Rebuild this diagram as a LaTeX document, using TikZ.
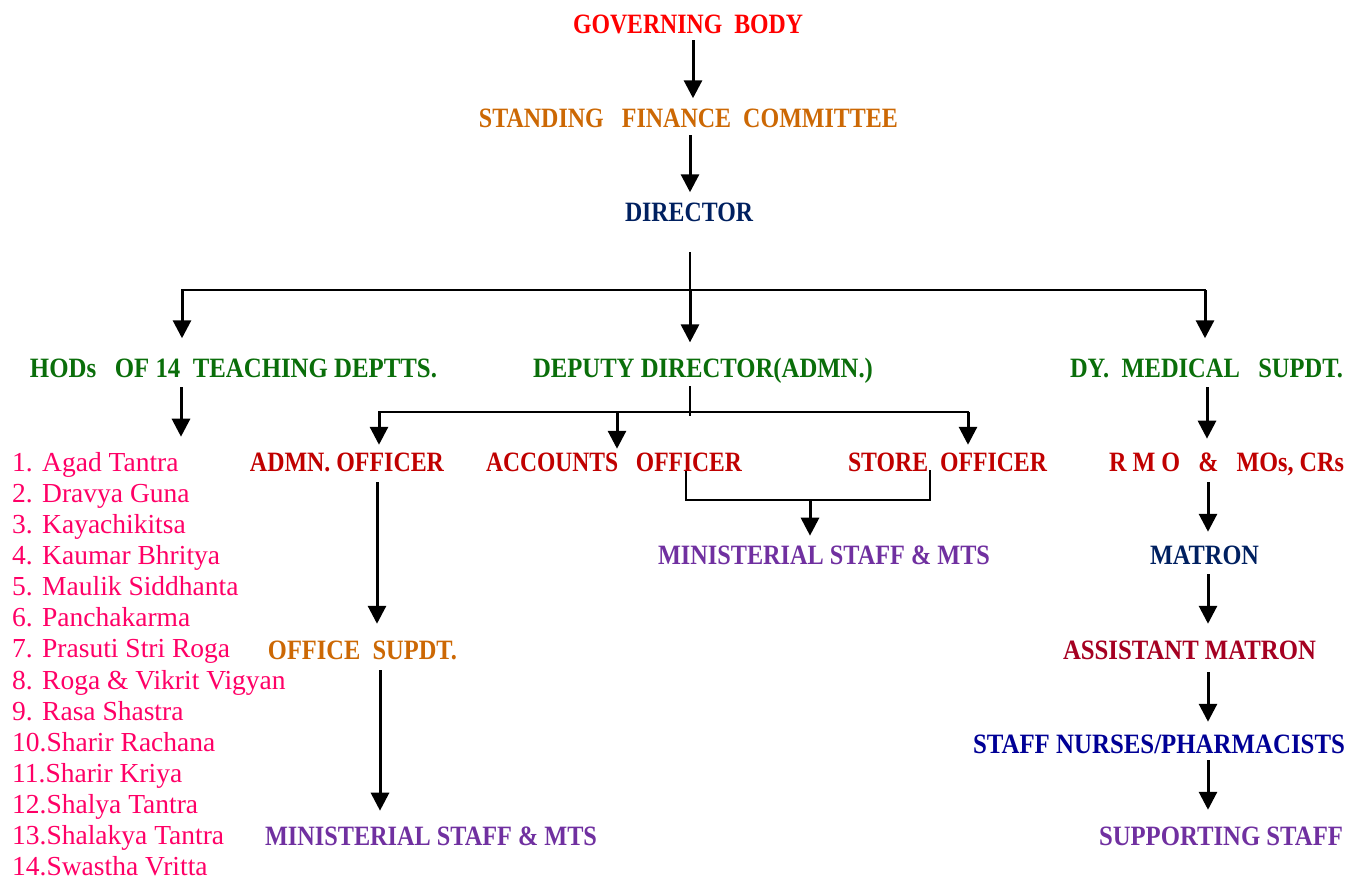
\documentclass[tikz,border=0pt]{standalone}
\usepackage{fontspec}
\setmainfont{Liberation Serif}
\usepackage{graphicx}
\usetikzlibrary{arrows.meta}
\definecolor{cred}{RGB}{255,0,0}
\definecolor{corange}{RGB}{204,104,4}
\definecolor{cnavy}{RGB}{0,32,96}
\definecolor{cgreen}{RGB}{10,110,10}
\definecolor{cdred}{RGB}{192,0,0}
\definecolor{cpurple}{RGB}{112,48,160}
\definecolor{ccrimson}{RGB}{165,0,33}
\definecolor{cblue}{RGB}{0,0,150}
\definecolor{cpink}{RGB}{255,0,102}
\newcommand{\fw}[2]{\resizebox{#1pt}{\height}{#2}}
\begin{document}
\begin{tikzpicture}[x=1pt,y=-1pt,
  hd/.style={inner sep=0pt,anchor=base,font=\fontsize{28}{32}\selectfont\bfseries},
  li/.style={inner sep=0pt,anchor=base west,text=cpink,font=\fontsize{27.5}{32}\selectfont},
  arr/.style={line width=3pt,-{Triangle[width=18pt,length=18pt]}},
  bus/.style={line width=2.4pt,line cap=rect}]
\useasboundingbox (0,0) rectangle (1347,879);
% headings
\node[hd,text=cred] (gb) at (688,33) {\fw{230}{GOVERNING\ \ BODY}};
\node[hd,text=corange] (sfc) at (688.5,127) {\fw{419}{STANDING\ \ \ FINANCE\ \ COMMITTEE}};
\node[hd,text=cnavy] (dir) at (689,221) {\fw{128}{DIRECTOR}};
\node[hd,text=cgreen] (hod) at (233.5,377) {\fw{407}{HODs\ \ \ OF 14\ \ TEACHING DEPTTS.}};
\node[hd,text=cgreen] (dd) at (703,377) {\fw{340}{DEPUTY DIRECTOR(ADMN.)}};
\node[hd,text=cgreen] (dms) at (1206.5,377) {\fw{273}{DY.\ \ MEDICAL\ \ \ SUPDT.}};
\node[hd,text=cdred] (admn) at (347,471) {\fw{194}{ADMN. OFFICER}};
\node[hd,text=cdred] (acc) at (614,471) {\fw{256}{ACCOUNTS\ \ \ OFFICER}};
\node[hd,text=cdred] (store) at (947.5,471) {\fw{199}{STORE\ \ OFFICER}};
\node[hd,text=cdred] (rmo) at (1226.5,471) {\fw{235}{R M O\ \ \ \&\ \ \ MOs, CRs}};
\node[hd,text=cpurple] (minm) at (824,564) {\fw{332}{MINISTERIAL STAFF \& MTS}};
\node[hd,text=corange] (os) at (362.5,659) {\fw{189}{OFFICE\ \ SUPDT.}};
\node[hd,text=cpurple] (minl) at (431,845) {\fw{332}{MINISTERIAL STAFF \& MTS}};
\node[hd,text=cnavy] (mat) at (1204.5,564) {\fw{109}{MATRON}};
\node[hd,text=ccrimson] (am) at (1189.5,659) {\fw{253}{ASSISTANT MATRON}};
\node[hd,text=cblue] (sn) at (1159,753) {\fw{372}{STAFF NURSES/PHARMACISTS}};
\node[hd,text=cpurple] (ss) at (1221,845) {\fw{244}{SUPPORTING STAFF}};
% list
\node[li] (n1) at (12,471) {1.};
\node[li] (l1) at (42,471) {Agad Tantra};
\node[li] (n2) at (12,502) {2.};
\node[li] (l2) at (42,502) {Dravya Guna};
\node[li] (n3) at (12,533) {3.};
\node[li] (l3) at (42,533) {Kayachikitsa};
\node[li] (n4) at (12,564) {4.};
\node[li] (l4) at (42,564) {Kaumar Bhritya};
\node[li] (n5) at (12,595.5) {5.};
\node[li] (l5) at (42,595.5) {Maulik Siddhanta};
\node[li] (n6) at (12,626.5) {6.};
\node[li] (l6) at (42,626.5) {Panchakarma};
\node[li] (n7) at (12,657.5) {7.};
\node[li] (l7) at (42,657.5) {Prasuti Stri Roga};
\node[li] (n8) at (12,689) {8.};
\node[li] (l8) at (42,689) {Roga \& Vikrit Vigyan};
\node[li] (n9) at (12,720) {9.};
\node[li] (l9) at (42,720) {Rasa Shastra};
\node[li] (l10) at (12,751) {10.Sharir Rachana};
\node[li] (l11) at (12,782) {11.Sharir Kriya};
\node[li] (l12) at (12,813) {12.Shalya Tantra};
\node[li] (l13) at (12,844) {13.Shalakya Tantra};
\node[li] (l14) at (12,875) {14.Swastha Vritta};
% column / junction coordinates
\coordinate (k1) at (693,0);
\coordinate (k2) at (690,0);
\coordinate (bAL) at (182,290);
\coordinate (bAM) at (690,290);
\coordinate (bAR) at (1205,290);
\coordinate (bBL) at (379,412);
\coordinate (bBM) at (617,412);
\coordinate (bBT) at (690,412);
\coordinate (bBR) at (968,412);
\coordinate (kh) at (181,0);
\coordinate (km) at (1207,0);
\coordinate (km2) at (1208,0);
\coordinate (ka) at (377,0);
\coordinate (ko) at (380,0);
\coordinate (br1) at (686,500);
\coordinate (br2) at (930,500);
\coordinate (brm) at (810,500);
% connectors
\draw[arr,shorten <=7pt,shorten >=10pt] (gb.base -| k1) -- (sfc.north -| k1);
\draw[arr,shorten <=8pt,shorten >=10pt] (sfc.base -| k2) -- (dir.north -| k2);
\draw[bus,shorten <=32pt] (dir.base -| bAM) -- (bAM);
\draw[bus] (bAL) -- (bAR);
\draw[arr,shorten >=20pt] (bAL) -- (hod.north -| bAL);
\draw[arr,shorten >=15pt] (bAM) -- (dd.north -| bAM);
\draw[arr,shorten >=20pt] (bAR) -- (dms.north -| bAR);
\draw[arr,shorten <=10pt,shorten >=15pt] (hod.base -| kh) -- (l1.north -| kh);
\draw[bus,shorten <=10pt] (dd.base -| bBT) -- ([yshift=-3pt]bBT);
\draw[bus] (bBL) -- (bBR);
\draw[arr,shorten >=7.5pt] (bBL) -- (admn.north -| bBL);
\draw[arr,shorten >=3.5pt] (bBM) -- (acc.north -| bBM);
\draw[arr,shorten >=7.5pt] (bBR) -- (store.north -| bBR);
\draw[arr,shorten <=10pt,shorten >=13.5pt] (dms.base -| km) -- (rmo.north -| km);
\draw[arr,shorten <=11pt,shorten >=16.5pt] (admn.base -| ka) -- (os.north -| ka);
\draw[arr,shorten <=11pt,shorten >=15.5pt] (os.base -| ko) -- (minl.north -| ko);
\draw[bus,shorten <=1pt] (acc.base -| br1) -- (br1) -- (br2) -- (store.base -| br2);
\draw[arr,shorten >=9.5pt] (brm) -- (minm.north -| brm);
\draw[arr,shorten <=11pt,shorten >=13.5pt] (rmo.base -| km2) -- (mat.north -| km2);
\draw[arr,shorten <=10pt,shorten >=16.5pt] (mat.base -| km2) -- (am.north -| km2);
\draw[arr,shorten <=13pt,shorten >=12.5pt] (am.base -| km2) -- (sn.north -| km2);
\draw[arr,shorten <=7pt,shorten >=16.5pt] (sn.base -| km2) -- (ss.north -| km2);
\end{tikzpicture}
\end{document}
